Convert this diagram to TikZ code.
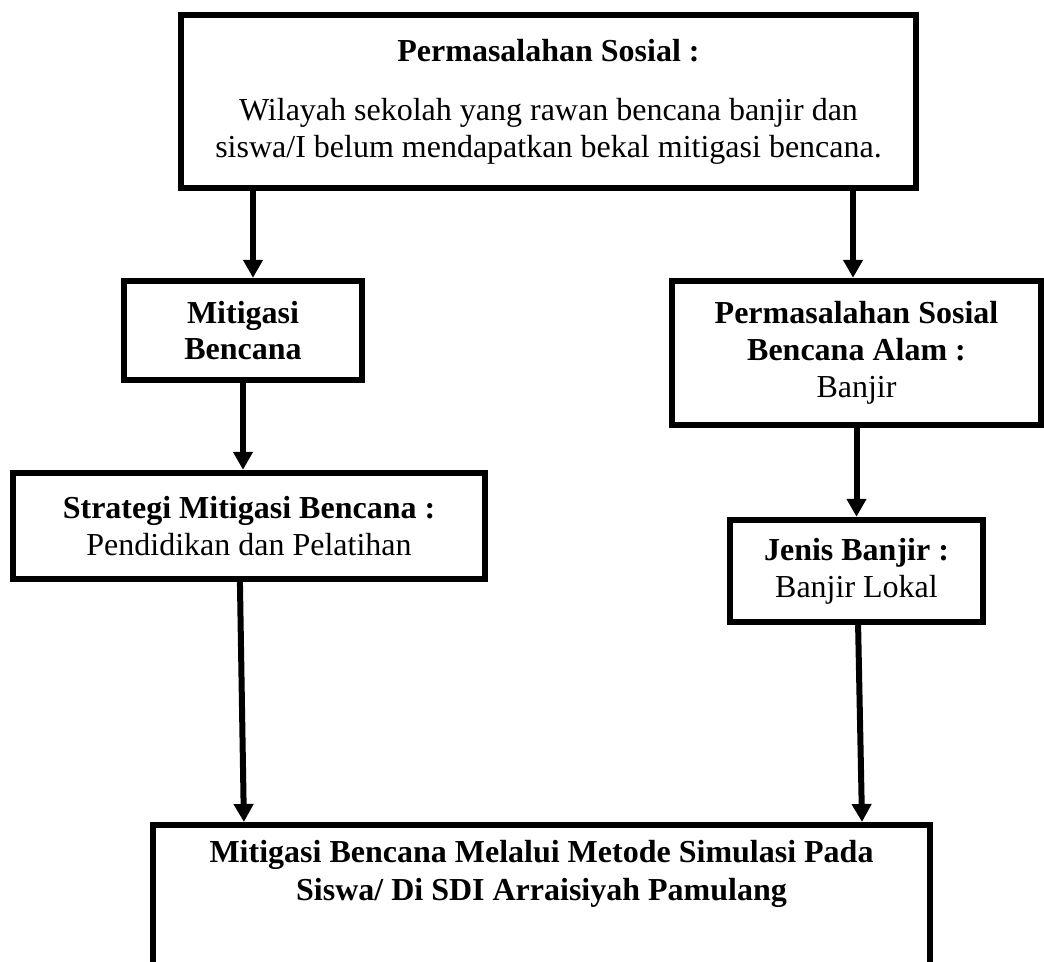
\documentclass[tikz,border=0pt]{standalone}
\usepackage{fontspec}
\setmainfont{Liberation Serif}
\usetikzlibrary{arrows.meta,positioning}

\begin{document}
\begin{tikzpicture}[x=0.375pt, y=-0.375pt,
  >={Triangle[length=6.75pt,width=7.1pt]},
  font=\fontsize{12}{13.8}\selectfont,
  box/.style={draw, line width=2.4pt, align=center, inner sep=0pt},
  link/.style={->, line width=2.25pt}]
  \useasboundingbox (0,0) rectangle (1044,962);
  \node[box, minimum width=275.6pt, minimum height=64.9pt] (top) at (548.5,101.5)
    {\textbf{Permasalahan Sosial :}\\[8.5pt]
     Wilayah sekolah yang rawan bencana banjir dan\\
     siswa/I belum mendapatkan bekal mitigasi bencana.};
  \node[box, minimum width=89.25pt, minimum height=37.1pt] (mitig) at (243,330.5)
    {\textbf{Mitigasi}\\ \textbf{Bencana}};
  \node[box, minimum width=138.4pt, minimum height=54pt] (perm) at (856.5,353)
    {\textbf{Permasalahan Sosial}\\ \textbf{Bencana Alam :}\\ Banjir};
  \node[box, minimum width=177pt, minimum height=39.75pt] (strat) at (249,526)
    {\textbf{Strategi Mitigasi Bencana :}\\ Pendidikan dan Pelatihan};
  \node[box, minimum width=94.9pt, minimum height=38.25pt] (jenis) at (856.5,571)
    {\textbf{Jenis Banjir :}\\ Banjir Lokal};
  \node[box, minimum width=291.4pt, minimum height=66.75pt, anchor=north] (goal) at (541.5,822) {};
  \node[align=center, font=\fontsize{12}{14.2}\selectfont\bfseries] (goaltext) at (541.5,874)
    {Mitigasi Bencana Melalui Metode Simulasi Pada\\ Siswa/ Di SDI Arraisiyah Pamulang};
  \draw[link] ([xshift=3.75pt]mitig.north |- top.south) -- ([xshift=3.75pt]mitig.north);
  \draw[link] ([xshift=-1.3pt]perm.north |- top.south) -- ([xshift=-1.3pt]perm.north);
  \draw[link] (mitig.south) -- (mitig.south |- strat.north);
  \draw[link] (perm.south) -- (jenis.north);
  \draw[link] ([xshift=-3.4pt]strat.south) -- ([xshift=-111.6pt]goal.north);
  \draw[link] ([xshift=0.6pt]jenis.south) -- ([xshift=120.2pt]goal.north);
\end{tikzpicture}
\end{document}
